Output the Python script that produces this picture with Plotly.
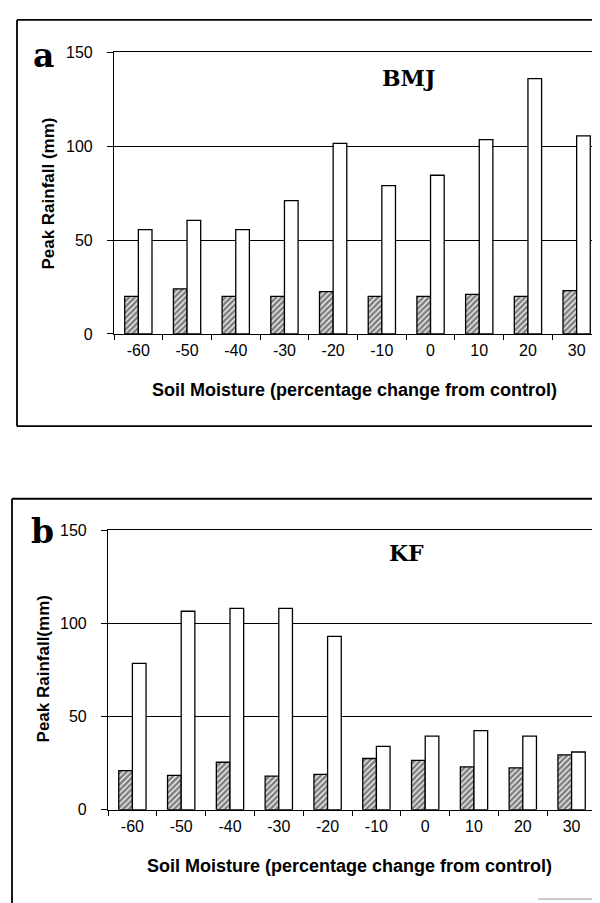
import plotly.graph_objects as go

categories = ["-60", "-50", "-40", "-30", "-20", "-10", "0", "10", "20", "30"]
bmj_hatched = [20, 24, 20, 20, 22.5, 20, 20, 21, 20, 23]
bmj_open = [55.5, 60.5, 55.5, 71, 101.5, 79, 84.5, 103.5, 136, 105.5]
kf_hatched = [21, 18.5, 25.5, 18, 19, 27.5, 26.5, 23, 22.5, 29.5]
kf_open = [78.5, 106.5, 108, 108, 93, 34, 39.5, 42.5, 39.5, 31]
y_ticks = [0, 50, 100, 150]

W, H = 600, 903

def px(x):
    return x / W

def py(y):
    return 1 - y / H

hatch = dict(shape="/", fgcolor="black", bgcolor="white", size=4, solidity=0.7)
line = dict(color="black", width=1.3)

fig = go.Figure()
for xa, ya, hv, ov in [("x", "y", bmj_hatched, bmj_open), ("x2", "y2", kf_hatched, kf_open)]:
    fig.add_trace(go.Bar(x=categories, y=hv, xaxis=xa, yaxis=ya,
                         marker=dict(color="white", pattern=hatch, line=line),
                         showlegend=False))
    fig.add_trace(go.Bar(x=categories, y=ov, xaxis=xa, yaxis=ya,
                         marker=dict(color="white", line=line),
                         showlegend=False))

tickfont = dict(family="Liberation Sans, Arial", size=16, color="black")
xcommon = dict(type="category", showline=True, linecolor="black", linewidth=1.2,
               mirror=True, ticks="outside", ticklen=5, tickcolor="black",
               tickson="boundaries", showgrid=False, tickfont=tickfont,
               ticklabelstandoff=2, fixedrange=True)
ycommon = dict(range=[0, 150], tickvals=y_ticks, showline=True, linecolor="black",
               linewidth=1.2, mirror=True, ticks="outside", ticklen=6,
               tickcolor="black", showgrid=True, gridcolor="black", gridwidth=1,
               zeroline=False, tickfont=tickfont, ticklabelstandoff=11, fixedrange=True)

fig.update_layout(
    width=W, height=H,
    margin=dict(l=0, r=0, t=0, b=0),
    paper_bgcolor="white", plot_bgcolor="white",
    barmode="group", bargap=0.44, bargroupgap=0,
    xaxis=dict(domain=[px(106), px(593)], anchor="y", **xcommon),
    yaxis=dict(domain=[py(324), py(37)], anchor="x", **ycommon),
    xaxis2=dict(domain=[px(100), px(588)], anchor="y2", **xcommon),
    yaxis2=dict(domain=[py(809), py(524)], anchor="x2", **ycommon),
)

serif = "DejaVu Serif"
sans_b = "Liberation Sans, Arial"
ann = []
def A(x, y, text, size, family, bold=True, angle=0):
    ann.append(dict(x=px(x), y=py(y), xref="paper", yref="paper", text=("<b>%s</b>" % text) if bold else text,
                    showarrow=False, xanchor="center", yanchor="middle", textangle=angle,
                    font=dict(family=family, size=size, color="black")))

A(35, 40, "a", 33, serif)
A(34, 525, "b", 33, serif)
A(400, 63, "BMJ", 22, serif)
A(398, 547, "KF", 22, serif)
A(346, 381, "Soil Moisture (percentage change from control)", 18, sans_b)
A(341, 866, "Soil Moisture (percentage change from control)", 18, sans_b)
A(41, 181, "Peak Rainfall (mm)", 17, sans_b, angle=-90)
A(35, 666, "Peak Rainfall(mm)", 17, sans_b, angle=-90)
fig.update_layout(annotations=ann)

shapes = []
def L(x0, y0, x1, y1, w=1.8, c="black"):
    shapes.append(dict(type="line", xref="paper", yref="paper", x0=px(x0), y0=py(y0),
                       x1=px(x1), y1=py(y1), line=dict(color=c, width=w)))
# outer frame panel a
L(9, 4, 601, 4)
L(9, 4, 9, 418)
L(9, 418, 601, 418)
# outer frame panel b
L(4, 492, 601, 492)
L(4, 492, 4, 904)
L(530, 900, 601, 900, w=1, c="#999999")
fig.update_layout(shapes=shapes)

fig.write_html("out.html")
